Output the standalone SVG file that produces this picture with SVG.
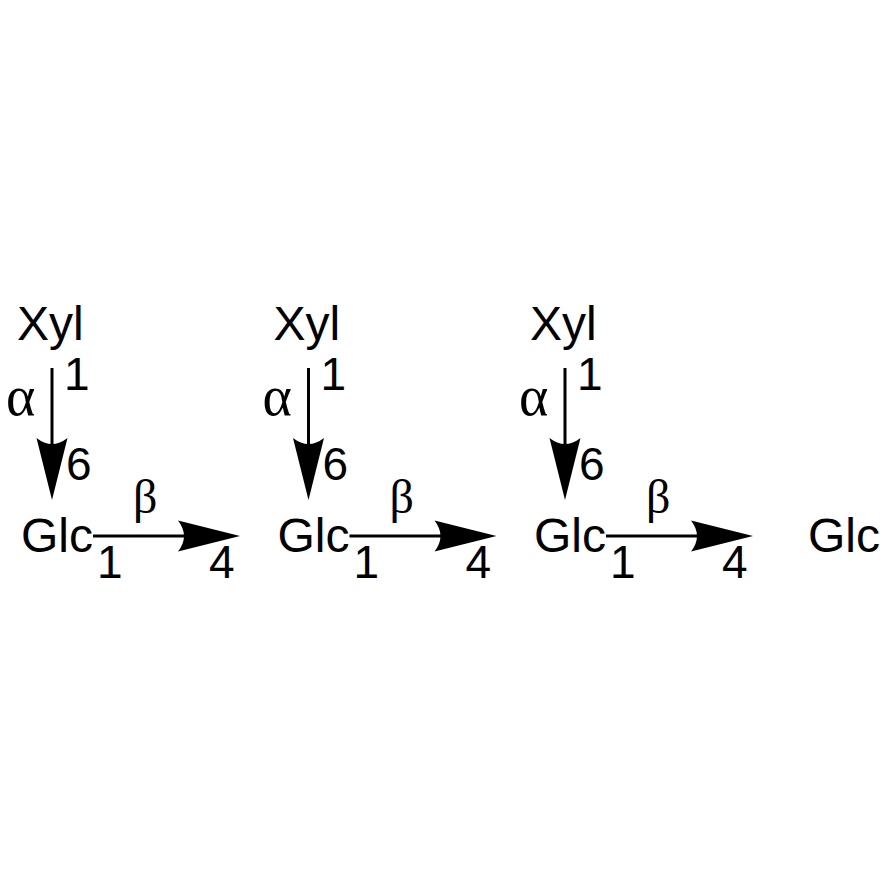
<svg xmlns="http://www.w3.org/2000/svg" width="890" height="890" viewBox="0 0 890 890">
<style>
.s{font-family:"Liberation Sans",Arial,sans-serif;font-size:48px;fill:#000}
.n{font-family:"Liberation Sans",Arial,sans-serif;font-size:46px;fill:#000}
.g{font-family:"Liberation Serif","Times New Roman",serif;font-size:48px;fill:#000}
.a{font-family:"Liberation Serif","Times New Roman",serif;font-size:56px;fill:#000}
.c{stroke:#000;stroke-width:3;fill:none;marker-end:url(#ah)}
</style>
<defs>
<marker id="ah" viewBox="-64 -17 66 34" markerWidth="66" markerHeight="34" refX="-20" refY="0" orient="auto" markerUnits="userSpaceOnUse">
<path d="M0,0 L-62,-15.5 Q-50,0 -62,15.5 Z" fill="#000"/>
</marker>
</defs>
<rect width="890" height="890" fill="#fff"/>
<g id="connectors">
<line class="c" x1="52" y1="368" x2="52" y2="480"/>
<line class="c" x1="93" y1="536" x2="220" y2="536"/>
<line class="c" x1="308.5" y1="368" x2="308.5" y2="480"/>
<line class="c" x1="349.5" y1="536" x2="476.5" y2="536"/>
<line class="c" x1="565" y1="368" x2="565" y2="480"/>
<line class="c" x1="606" y1="536" x2="733" y2="536"/>
</g>
<g id="labels">
<g id="unit1">
<text class="n" x="64" y="390">1</text>
<text class="a" x="6" y="415">α</text>
<text class="n" x="66" y="480">6</text>
<text class="g" x="133" y="513">β</text>
<text class="n" x="97" y="578">1</text>
<text class="n" x="209" y="578">4</text>
</g>
<g id="unit2" transform="translate(256.5,0)">
<text class="n" x="64" y="390">1</text>
<text class="a" x="6" y="415">α</text>
<text class="n" x="66" y="480">6</text>
<text class="g" x="133" y="513">β</text>
<text class="n" x="97" y="578">1</text>
<text class="n" x="209" y="578">4</text>
</g>
<g id="unit3" transform="translate(513,0)">
<text class="n" x="64" y="390">1</text>
<text class="a" x="6" y="415">α</text>
<text class="n" x="66" y="480">6</text>
<text class="g" x="133" y="513">β</text>
<text class="n" x="97" y="578">1</text>
<text class="n" x="209" y="578">4</text>
</g>
</g>
<g id="xyl1"><text class="s" x="17" y="340">Xyl</text></g>
<g id="xyl2"><text class="s" x="273.5" y="340">Xyl</text></g>
<g id="xyl3"><text class="s" x="530" y="340">Xyl</text></g>
<g id="glc1"><text class="s" x="21" y="552">Glc</text></g>
<g id="glc2"><text class="s" x="277.5" y="552">Glc</text></g>
<g id="glc3"><text class="s" x="534" y="552">Glc</text></g>
<g id="glc4"><text class="s" x="808" y="552">Glc</text></g>
</svg>
